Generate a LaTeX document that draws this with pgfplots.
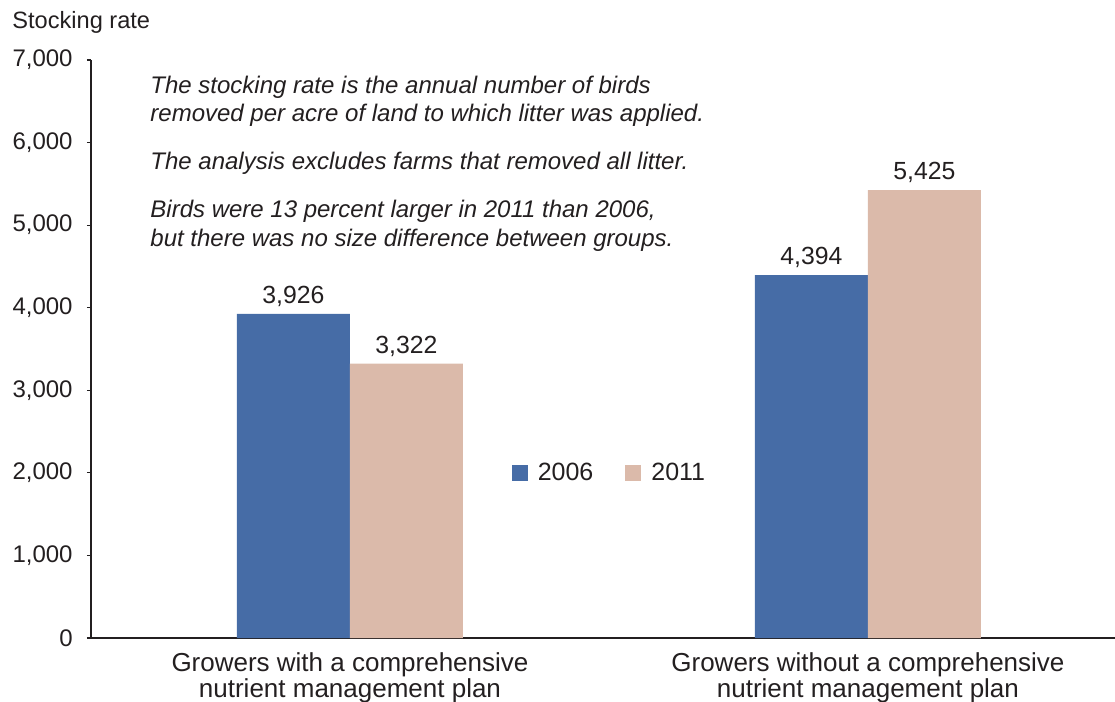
\documentclass[border=0pt]{standalone}
\usepackage{pgfplots}
\pgfplotsset{compat=1.18}
\usepackage{fontspec}
\setmainfont{Liberation Sans}
\definecolor{cblue}{RGB}{70,108,166}
\definecolor{cpink}{RGB}{219,186,170}
\definecolor{ctext}{RGB}{35,31,32}
\begin{document}
\fontsize{12pt}{14pt}\selectfont
\begin{tikzpicture}
\begin{axis}[
  at={(45.5pt,32pt)}, anchor=south west,
  scale only axis, width=512pt, height=289pt,
  ybar=0pt, bar width=56.5pt,
  xmin=-0.5, xmax=1.477, ymin=0, ymax=7000,
  axis x line*=bottom, axis y line*=left,
  axis line style={-, draw=ctext, line width=0.6pt},
  xtick={0,1},
  xticklabels={Growers with a comprehensive\\nutrient management plan, Growers without a comprehensive\\nutrient management plan},
  xticklabel style={align=center, text=ctext, font=\fontsize{13pt}{13pt}\selectfont, yshift=-1pt},
  x tick style={draw=none},
  ytick={0,1000,...,7000},
  y tick style={draw=ctext, line width=0.6pt},
  tick align=outside, major tick length=2pt,
  yticklabel style={text=ctext, font=\fontsize{12pt}{14pt}\selectfont, xshift=-3pt},
  /pgf/number format/1000 sep={,},
  /pgf/number format/assume math mode=true,
  nodes near coords,
  every node near coord/.append style={text=ctext, yshift=-0.5pt, font=\fontsize{12.4pt}{14pt}\selectfont, /pgf/number format/1000 sep={,}, /pgf/number format/assume math mode=true},
  clip=false,
  legend style={at={(axis cs:0.3,1995)}, anchor=west, draw=none, fill=none, legend columns=2, text=ctext,
    font=\fontsize{12.5pt}{14pt}\selectfont,
    /tikz/every even column/.append style={column sep=14pt},
    /tikz/every odd column/.append style={column sep=3pt}},
  legend image code/.code={\fill[#1] (0pt,-4pt) rectangle (8pt,4pt);},
]
\addplot[fill=cblue, draw=none] coordinates {(0,3926) (1,4394)};
\addplot[fill=cpink, draw=none] coordinates {(0,3322) (1,5425)};
\legend{2006,2011}
\node[anchor=west, text=ctext, inner sep=0pt, font=\fontsize{11.8pt}{14pt}\selectfont] at ([xshift=-39.5pt, yshift=19pt]rel axis cs:0,1) {Stocking rate};
\begin{scope}[every node/.style={anchor=west, text=ctext, font=\fontsize{12pt}{14pt}\selectfont\itshape, inner sep=0pt}]
\node at (axis cs:-0.386,6673) {The stocking rate is the annual number of birds};
\node at (axis cs:-0.386,6334) {removed per acre of land to which litter was applied.};
\node at (axis cs:-0.386,5753) {The analysis excludes farms that removed all litter.};
\node at (axis cs:-0.386,5171) {Birds were 13 percent larger in 2011 than 2006,};
\node at (axis cs:-0.386,4820) {but there was no size difference between groups.};
\end{scope}
\end{axis}
\pgfresetboundingbox
\path[use as bounding box] (0,0) rectangle (557.5pt,351pt);
\end{tikzpicture}
\end{document}
